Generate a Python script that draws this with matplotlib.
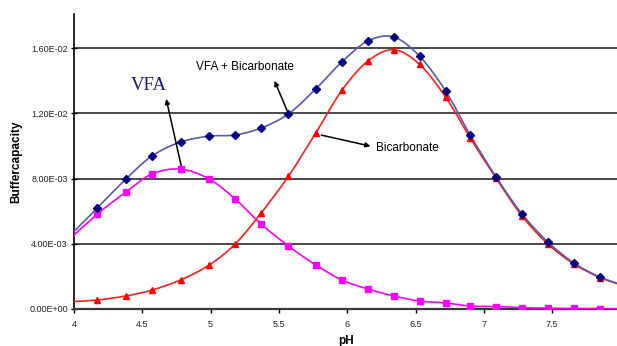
import matplotlib
matplotlib.use("Agg")
import matplotlib.pyplot as plt
from matplotlib.path import Path
from matplotlib.patches import PathPatch
import numpy as np

# pH values (first and last lie just outside the visible axis range)
ph = [3.97, 4.17, 4.38, 4.57, 4.78, 4.99, 5.18, 5.37, 5.57, 5.77, 5.96,
      6.15, 6.34, 6.53, 6.72, 6.90, 7.09, 7.28, 7.47, 7.66, 7.85, 8.04]

total = [4.5e-3, 6.19e-3, 7.97e-3, 9.38e-3, 10.24e-3, 10.6e-3, 10.67e-3, 11.1e-3,
         11.96e-3, 13.5e-3, 15.14e-3, 16.43e-3, 16.68e-3, 15.5e-3, 13.37e-3,
         10.67e-3, 8.09e-3, 5.82e-3, 4.1e-3, 2.82e-3, 1.96e-3, 1.4e-3]

bicarb = [0.45e-3, 0.55e-3, 0.8e-3, 1.16e-3, 1.78e-3, 2.7e-3, 3.99e-3, 5.89e-3,
          8.15e-3, 10.8e-3, 13.4e-3, 15.2e-3, 15.9e-3, 15.0e-3, 13.0e-3,
          10.5e-3, 8.02e-3, 5.7e-3, 3.98e-3, 2.76e-3, 1.93e-3, 1.38e-3]

vfa = [4.3e-3, 5.82e-3, 7.17e-3, 8.28e-3, 8.58e-3, 7.97e-3, 6.74e-3, 5.21e-3,
       3.86e-3, 2.7e-3, 1.78e-3, 1.23e-3, 0.8e-3, 0.49e-3, 0.37e-3, 0.18e-3,
       0.15e-3, 0.08e-3, 0.05e-3, 0.03e-3, 0.02e-3, 0.01e-3]

yticks = [0, 4e-3, 8e-3, 1.2e-2, 1.6e-2]
ytick_labels = ["0.00E+00", "4.00E-03", "8.00E-03", "1.20E-02", "1.60E-02"]
xticks = [4, 4.5, 5, 5.5, 6, 6.5, 7, 7.5]
xtick_labels = ["4", "4.5", "5", "5.5", "6", "6.5", "7", "7.5"]


def smooth_path(x, y):
    # Excel-like smoothed line: cubic Bezier segments through every point
    p = np.column_stack([x, y])
    n = len(p)
    verts = [p[0]]
    codes = [Path.MOVETO]
    for i in range(n - 1):
        p0 = p[i - 1] if i > 0 else p[i]
        p3 = p[i + 2] if i + 2 < n else p[i + 1]
        c1 = p[i] + (p[i + 1] - p0) / 6.0
        c2 = p[i + 1] - (p3 - p[i]) / 6.0
        verts += [c1, c2, p[i + 1]]
        codes += [Path.CURVE4] * 3
    return Path(verts, codes)


fig = plt.figure(figsize=(6.17, 3.46), dpi=100)
ax = fig.add_axes([0.12, 0.107, 0.88, 0.853])

for g in yticks[1:]:
    ax.axhline(g, color="#3a3a3a", lw=1.3, zorder=1)

series = [
    (vfa, "#ff00ff", "#ff00ff", "s", 4.4),
    (bicarb, "#ff2020", "#ff0000", "^", 4.6),
    (total, "#5a5aa8", "#000080", "D", 4.4),
]
for ys, lc, mc, mk, ms in series:
    ax.add_patch(PathPatch(smooth_path(ph, ys), fill=False, edgecolor=lc,
                           lw=1.2, zorder=3))
    ax.plot(ph[1:-1], ys[1:-1], linestyle="none", marker=mk, ms=ms,
            color=mc, mec=mc, zorder=4)

ax.set_xlim(4, 7.975)
ax.set_ylim(0, 0.0181)
ax.set_xticks(xticks)
ax.set_xticklabels(xtick_labels, fontsize=6.5, family="Liberation Sans",
                   color="#222222")
ax.set_yticks(yticks)
ax.set_yticklabels(ytick_labels, fontsize=6.5, family="Liberation Sans",
                   color="#222222")
ax.tick_params(axis="x", direction="out", length=3, width=1, pad=5)
ax.tick_params(axis="y", direction="inout", length=5, width=1, pad=2)

for s in ["top", "right"]:
    ax.spines[s].set_visible(False)
ax.spines["left"].set_linewidth(1.2)
ax.spines["bottom"].set_linewidth(1.6)
ax.spines["bottom"].set_color("#3a3a3a")

ax.set_xlabel("pH", fontsize=8.5, fontweight="bold", family="Liberation Sans",
              labelpad=4)
ax.set_ylabel("Buffercapacity", fontsize=8.5, fontweight="bold",
              family="Liberation Sans", labelpad=5)

arrow = dict(arrowstyle="-|>", color="black", lw=1.1, mutation_scale=7)
ax.annotate("", xy=(4.67, 0.01305), xytext=(4.79, 0.00858), arrowprops=arrow)
ax.text(4.55, 0.0137, "VFA", fontsize=13.5, family="Liberation Serif",
        color="#1c1c6e", ha="center", va="center")

ax.annotate("", xy=(5.46, 0.01415), xytext=(5.57, 0.01196), arrowprops=arrow)
ax.text(5.25, 0.01485, "VFA + Bicarbonate", fontsize=8.5,
        family="Liberation Sans", ha="center", va="center")

ax.annotate("", xy=(6.19, 0.00995), xytext=(5.79, 0.0107), arrowprops=arrow)
ax.text(6.21, 0.00985, "Bicarbonate", fontsize=8.5, family="Liberation Sans",
        ha="left", va="center")

fig.savefig("out.png", dpi=100)
